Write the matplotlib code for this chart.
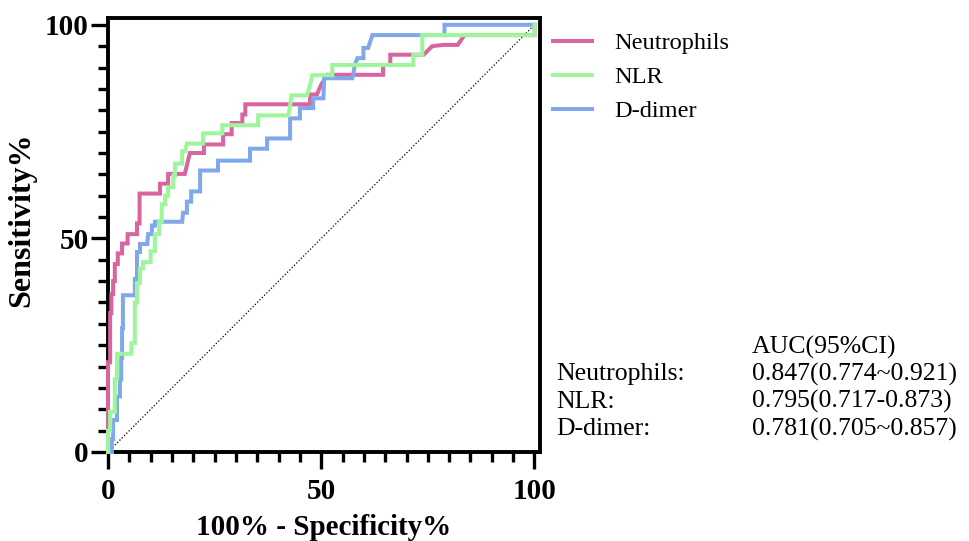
import matplotlib
matplotlib.use("Agg")
import matplotlib.pyplot as plt
from matplotlib.ticker import MultipleLocator

plt.rcParams['font.family'] = ['Liberation Serif', 'DejaVu Serif']

# ROC curves (100% - specificity %, sensitivity %)
neut_x = [0, 0, 0.5, 0.5, 0.8, 0.8, 1.2, 1.2, 1.6, 1.6, 2.3, 2.3, 3.3, 3.3, 4.6, 4.6,
          6.8, 6.8, 7.4, 7.4, 12.2, 12.2, 14.1, 14.1, 18.0, 19.2, 22.5, 22.5, 27.0, 27.0,
          29.0, 29.0, 31.5, 31.5, 32.2, 32.2, 47.4, 47.4, 49.0, 50.0, 51.4, 64.5, 64.5,
          66.2, 66.2, 74.0, 76.0, 78.6, 82.0, 83.6, 100, 100]
neut_y = [0, 21, 21, 32.5, 32.5, 37, 37, 40, 40, 44, 44, 46.5, 46.5, 48.8, 48.8, 51,
          51, 53.5, 53.5, 60.5, 60.5, 62.8, 62.8, 65.1, 65.1, 70, 70, 72, 72, 74.4,
          74.4, 77, 77, 79, 79, 81.4, 81.4, 83.7, 83.7, 86, 88.3, 88.3, 90.6,
          90.6, 93, 93, 95, 95.3, 95.3, 97.6, 97.6, 100]

nlr_x = [0, 0, 0.5, 0.5, 1.6, 1.6, 2.1, 2.1, 5.5, 5.5, 6.3, 6.3, 6.8, 6.8, 7.5, 7.5,
         8.2, 8.2, 10.0, 10.0, 11.0, 11.0, 12.0, 12.0, 12.6, 12.6, 13.4, 13.4, 14.1, 14.1,
         15.3, 15.3, 15.7, 15.7, 17.4, 17.4, 18.1, 18.5, 22.3, 22.3, 26.8, 26.8, 35.2, 35.2,
         42.3, 42.7, 43.0, 46.7, 47.4, 47.9, 52.6, 52.6, 71.6, 71.6, 73.7, 73.7, 100, 100]
nlr_y = [0, 5, 5, 9.4, 9.4, 17, 17, 23, 23, 25.5, 25.5, 35, 35, 39.5, 39.5, 43,
         43, 44.5, 44.5, 47, 47, 51, 51, 54, 54, 58, 58, 60, 60, 62,
         62, 64.7, 64.7, 67.5, 67.5, 70.4, 70.4, 72.2, 72.2, 74.6, 74.6, 76.5, 76.5, 78.8,
         78.8, 81, 83.5, 83.5, 86, 88.2, 88.2, 90.6, 90.6, 93, 93, 97.6, 97.6, 100]

dd_x = [0, 0.9, 0.9, 1.2, 1.2, 2.1, 2.1, 2.8, 2.8, 3.1, 3.1, 3.3, 3.3, 3.5, 3.5, 6.3,
        6.3, 6.8, 6.8, 7.5, 7.5, 9.2, 9.4, 10.3, 10.3, 11.0, 11.0, 17.4, 17.6, 18.5,
        18.5, 19.5, 19.5, 21.6, 21.6, 25.8, 25.8, 33.3, 33.3, 37.3, 37.3, 42.7, 42.7,
        45.0, 45.0, 48.1, 48.1, 50.5, 50.7, 57.3, 58.0, 58.5, 59.9, 59.9, 61.0, 62.0,
        78.9, 78.9, 100]
dd_y = [0, 0, 3, 3, 7.5, 7.5, 13, 13, 17, 17, 22, 22, 29, 29, 36.7, 36.7,
        40.5, 40.5, 46.8, 46.8, 48.7, 48.7, 51, 51, 53, 53, 53.9, 53.9, 56, 56,
        58.6, 58.6, 61, 61, 65.9, 65.9, 68.2, 68.2, 71, 71, 73.4, 73.4, 78.1,
        78.1, 80.5, 80.5, 82.8, 82.8, 87.5, 87.5, 91, 92.2, 92.2, 94.6, 94.6, 97.6,
        97.6, 100, 100]

names = ['Neutrophils', 'NLR', 'D-dimer']
colors = ['#d8659f', '#9ff59c', '#80a8ea']
auc_labels = ['Neutrophils:', 'NLR:', 'D-dimer:']
auc_values = ['0.847(0.774~0.921)', '0.795(0.717-0.873)', '0.781(0.705~0.857)']

fig = plt.figure(figsize=(9.69, 5.41), dpi=100)
ax = fig.add_axes([108 / 969, 89 / 541, 432 / 969, 434 / 541])

curves = [(neut_x, neut_y), (nlr_x, nlr_y), (dd_x, dd_y)]
zorders = [3, 5, 4]
handles = []
for (xs, ys), name, col, z in zip(curves, names, colors, zorders):
    h, = ax.plot(xs, ys, color=col, lw=2.9, label=name, zorder=z,
                 solid_joinstyle='miter', clip_on=False)
    handles.append(h)

# reference line
ax.plot([0, 100], [0, 100], color='black', lw=0.9, ls=(0, (1, 1.6)), zorder=2)

ax.set_xlim(0, 101.3)
ax.set_ylim(0, 101.6)
ax.xaxis.set_minor_locator(MultipleLocator(5))
ax.yaxis.set_minor_locator(MultipleLocator(5))
ax.set_xticks([0, 50, 100])
ax.set_yticks([0, 50, 100])
ax.tick_params(which='major', length=12, width=2.4, labelsize=21)
ax.tick_params(which='minor', length=7, width=2.4)
ax.tick_params(axis='x', which='major', pad=7)
ax.tick_params(axis='y', which='major', pad=2)
for lab in ax.get_xticklabels() + ax.get_yticklabels():
    lab.set_fontweight('bold')
for sp in ax.spines.values():
    sp.set_linewidth(2.8)

ax.set_xlabel('100% - Specificity%', fontsize=21, fontweight='bold')
ax.set_ylabel('Sensitivity%', fontsize=23, fontweight='bold')
ax.xaxis.set_label_coords(0.5, -0.173)
ax.xaxis.label.set_verticalalignment('center')
ax.yaxis.set_label_coords(-0.199, 0.535)
ax.yaxis.label.set_verticalalignment('center')

ax.legend(handles=handles, loc='upper left', bbox_to_anchor=(553 / 969, 1 - 32 / 541),
          bbox_transform=fig.transFigure, frameon=False, fontsize=17.6,
          handlelength=1.6, handletextpad=0.9, labelspacing=0.49,
          borderpad=0, borderaxespad=0)

fig.text(752 / 969, 1 - 347 / 541, 'AUC(95%CI)', fontsize=18.5, va='center', ha='left')
for i, (lab, val) in enumerate(zip(auc_labels, auc_values)):
    yy = 1 - (374 + 27.5 * i) / 541
    fig.text(556 / 969, yy, lab, fontsize=18.5, va='center', ha='left')
    fig.text(752 / 969, yy, val, fontsize=18.5, va='center', ha='left')

fig.savefig('out.png', dpi=100)
